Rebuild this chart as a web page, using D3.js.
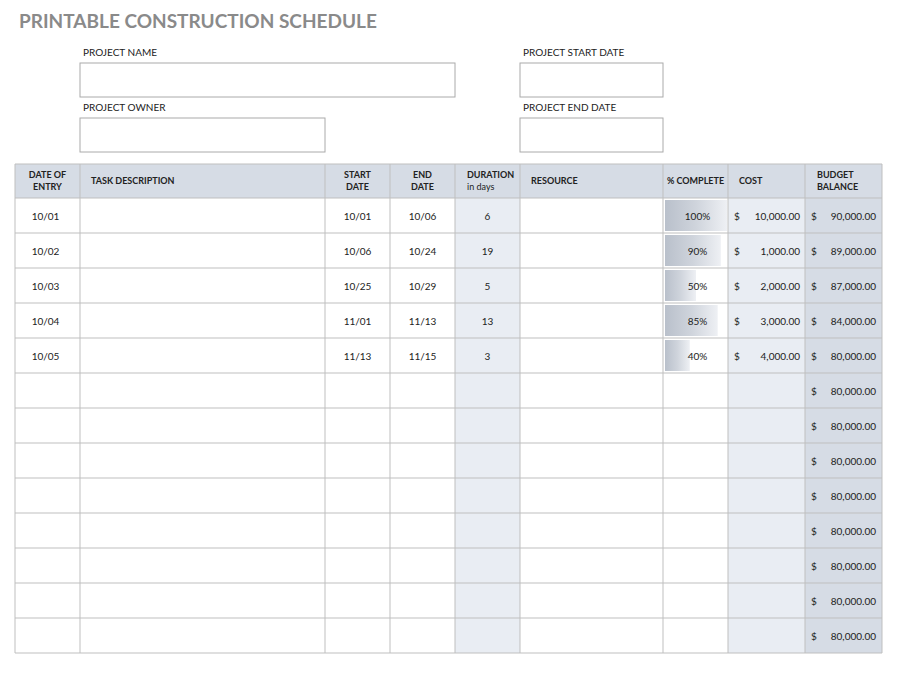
<!DOCTYPE html>
<html><head><meta charset="utf-8">
<script src="https://cdn.jsdelivr.net/npm/d3@7"></script>
<style>body{margin:0;background:#fff}</style></head>
<body><svg id="c" width="901" height="675"></svg>
<script>
const headers = [["DATE OF","ENTRY"],["TASK DESCRIPTION"],["START","DATE"],["END","DATE"],["DURATION","in days"],["RESOURCE"],["% COMPLETE"],["COST"],["BUDGET","BALANCE"]];
const entryDates = ["10/01","10/02","10/03","10/04","10/05"];
const startDates = ["10/01","10/06","10/25","11/01","11/13"];
const endDates = ["10/06","10/24","10/29","11/13","11/15"];
const durations = [6,19,5,13,3];
const pctComplete = [100,90,50,85,40];
const costs = [10000,1000,2000,3000,4000];
const balances = [90000,89000,87000,84000,80000,80000,80000,80000,80000,80000,80000,80000,80000];
const colEdges = [15,80,325,390,455,520,663,728,805,882];
const formLabels = ["PROJECT NAME","PROJECT START DATE","PROJECT OWNER","PROJECT END DATE"];

const svg = d3.select("#c");
const F = "Lato, 'Open Sans', sans-serif";
const grid = "#bfbfbf";
svg.append("text").attr("x",19).attr("y",28).attr("font-family",F).attr("font-weight","bold").attr("font-size",19).attr("fill","#8a8a8a").text("PRINTABLE CONSTRUCTION SCHEDULE");
const boxes = [[80,63,375],[520,63,143],[80,118,245],[520,118,143]];
boxes.forEach((b,i)=>{
  svg.append("text").attr("x",b[0]+3).attr("y",b[1]-7).attr("font-family",F).attr("font-size",10).attr("fill","#222").text(formLabels[i]);
  svg.append("rect").attr("x",b[0]).attr("y",b[1]).attr("width",b[2]).attr("height",34).attr("fill","#fff").attr("stroke","#aaa");
});
const nRows = balances.length;
const tTop = 164, hh = 34;
const y = d3.scaleBand().domain(d3.range(nRows)).range([tTop+hh, tTop+hh+35*nRows]);
const rh = y.bandwidth();
svg.append("rect").attr("x",15).attr("y",tTop).attr("width",867).attr("height",hh).attr("fill","#d6dce5");
const shade = [[4,"#e9edf3"],[7,"#e9edf3"],[8,"#d6dce5"]];
shade.forEach(([c,col])=>svg.append("rect").attr("x",colEdges[c]).attr("y",tTop+hh).attr("width",colEdges[c+1]-colEdges[c]).attr("height",rh*nRows).attr("fill",col));
const defs = svg.append("defs");
const g = defs.append("linearGradient").attr("id","pg");
[[0,"#b9c0cb"],[0.5,"#cfd4dc"],[1,"#eef0f4"]].forEach(s=>g.append("stop").attr("offset",s[0]).attr("stop-color",s[1]));
const px = d3.scaleLinear().domain([0,100]).range([colEdges[6]+2, colEdges[7]-1]);
svg.selectAll(".pb").data(pctComplete).join("rect").attr("x",px(0)).attr("y",(d,i)=>y(i)+2).attr("width",d=>px(d)-px(0)).attr("height",rh-4).attr("fill","url(#pg)");
headers.forEach((h,i)=>{
  const x0=colEdges[i],x1=colEdges[i+1];
  const left = [1,5,7].includes(i);
  const t = svg.append("text").attr("font-family",F).attr("font-size",9).attr("fill","#222").attr("font-weight","bold");
  let x = left? x0+11 : (x0+x1)/2, anchor = left?"start":"middle";
  if(i===8||i===4){x=x0+12;anchor="start";}
  t.attr("x",x).attr("text-anchor",anchor);
  if(h.length===1) t.attr("y",tTop+20).text(h[0]);
  else {
    t.append("tspan").attr("x",x).attr("y",tTop+14).text(h[0]);
    t.append("tspan").attr("x",x).attr("y",tTop+26).attr("font-weight",i===4?"normal":"bold").text(h[1]);
  }
});
const fmt = d3.format(",.2f");
const cell = (x,i,txt,anchor="middle")=>svg.append("text").attr("x",x).attr("y",y(i)+rh/2+4).attr("text-anchor",anchor).attr("font-family",F).attr("font-size",10).attr("fill","#222").text(txt);
const mid = c=>(colEdges[c]+colEdges[c+1])/2;
entryDates.forEach((d,i)=>{
  cell(mid(0)-2,i,d); cell(mid(2),i,startDates[i]); cell(mid(3),i,endDates[i]);
  cell(mid(4),i,durations[i]); cell(mid(6)+2,i,pctComplete[i]+"%");
  cell(colEdges[7]+6,i,"$","start"); cell(colEdges[8]-5,i,fmt(costs[i]),"end");
});
balances.forEach((b,i)=>{cell(colEdges[8]+6,i,"$","start"); cell(colEdges[9]-6,i,fmt(b),"end");});
const bottom = tTop+hh+rh*nRows;
colEdges.forEach(x=>svg.append("line").attr("x1",x).attr("x2",x).attr("y1",tTop).attr("y2",bottom).attr("stroke",grid));
[tTop].concat(d3.range(nRows+1).map(i=>tTop+hh+rh*i)).forEach(yy=>svg.append("line").attr("x1",15).attr("x2",882).attr("y1",yy).attr("y2",yy).attr("stroke",grid));
</script></body></html>
